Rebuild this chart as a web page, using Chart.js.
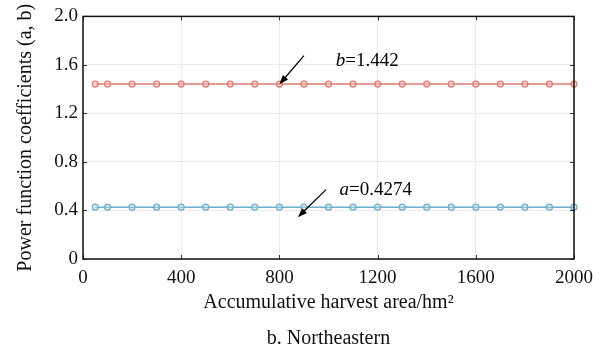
<!DOCTYPE html>
<html>
<head>
<meta charset="utf-8">
<script src="https://cdn.jsdelivr.net/npm/chart.js@4.4.1/dist/chart.umd.min.js"></script>
<style>
  html, body { margin: 0; padding: 0; background: #fff; }
  #wrap { width: 609px; height: 354px; }
</style>
</head>
<body>
<div id="wrap"><canvas id="chart" width="609" height="354"></canvas></div>
<script>
// harvest area (hm2) where the coefficients were sampled
const area = [50, 100, 200, 300, 400, 500, 600, 700, 800, 900, 1000,
              1100, 1200, 1300, 1400, 1500, 1600, 1700, 1800, 1900, 2000];
const bValues = area.map(() => 1.442);   // constant coefficient b
const aValues = area.map(() => 0.4274);  // constant coefficient a
const xTicks = [0, 400, 800, 1200, 1600, 2000];
const yTicks = [0, 0.4, 0.8, 1.2, 1.6, 2.0];

// annotation labels and arrows, placed in data units
const notes = [
  { name: 'b', value: '=1.442', at: [1030, 1.63], from: [900, 1.677], to: [800, 1.44] },
  { name: 'a', value: '=0.4274', at: [1045, 0.565], from: [990, 0.572], to: [875, 0.345] }
];

const serif = '"Liberation Serif", "Times New Roman", serif';
const red = '#df7a6e';
const blue = '#6badcc';

// draws the frame, inner ticks, arrows, labels and the caption
const extras = {
  id: 'extras',
  afterDraw(chart) {
    const { ctx, chartArea: ca, scales } = chart;
    const x = scales.x, y = scales.y;
    ctx.save();
    // inner tick marks on all four sides
    ctx.strokeStyle = '#333';
    ctx.lineWidth = 1;
    xTicks.forEach(v => {
      const px = Math.round(x.getPixelForValue(v)) + 0.5;
      ctx.beginPath(); ctx.moveTo(px, ca.top); ctx.lineTo(px, ca.top + 4); ctx.stroke();
      ctx.beginPath(); ctx.moveTo(px, ca.bottom); ctx.lineTo(px, ca.bottom - 4); ctx.stroke();
    });
    yTicks.forEach(v => {
      const py = Math.round(y.getPixelForValue(v)) + 0.5;
      ctx.beginPath(); ctx.moveTo(ca.right, py); ctx.lineTo(ca.right - 4, py); ctx.stroke();
      ctx.beginPath(); ctx.moveTo(ca.left, py); ctx.lineTo(ca.left + 4, py); ctx.stroke();
    });
    // frame
    ctx.strokeStyle = '#111';
    ctx.lineWidth = 1.5;
    ctx.strokeRect(ca.left, ca.top, ca.right - ca.left, ca.bottom - ca.top);

    // arrows and labels
    notes.forEach(n => {
      const x1 = x.getPixelForValue(n.from[0]), y1 = y.getPixelForValue(n.from[1]);
      const x2 = x.getPixelForValue(n.to[0]), y2 = y.getPixelForValue(n.to[1]);
      const ang = Math.atan2(y2 - y1, x2 - x1);
      ctx.strokeStyle = '#000';
      ctx.fillStyle = '#000';
      ctx.lineWidth = 1.3;
      ctx.beginPath(); ctx.moveTo(x1, y1);
      ctx.lineTo(x2 - 6 * Math.cos(ang), y2 - 6 * Math.sin(ang)); ctx.stroke();
      ctx.beginPath();
      ctx.moveTo(x2, y2);
      ctx.lineTo(x2 - 10 * Math.cos(ang - 0.35), y2 - 10 * Math.sin(ang - 0.35));
      ctx.lineTo(x2 - 10 * Math.cos(ang + 0.35), y2 - 10 * Math.sin(ang + 0.35));
      ctx.closePath(); ctx.fill();

      const lx = x.getPixelForValue(n.at[0]), ly = y.getPixelForValue(n.at[1]);
      ctx.textBaseline = 'middle';
      ctx.textAlign = 'left';
      ctx.font = 'italic 19px ' + serif;
      ctx.fillText(n.name, lx, ly);
      const w = ctx.measureText(n.name).width;
      ctx.font = '19px ' + serif;
      ctx.fillText(n.value, lx + w, ly);
    });

    // caption
    ctx.font = '20px ' + serif;
    ctx.textAlign = 'center';
    ctx.textBaseline = 'middle';
    ctx.fillStyle = '#111';
    ctx.fillText('b. Northeastern', (ca.left + ca.right) / 2, 339);
    ctx.restore();
  }
};

new Chart(document.getElementById('chart'), {
  type: 'line',
  data: {
    labels: area,
    datasets: [
      {
        label: 'b',
        data: bValues.map((v, i) => ({ x: area[i], y: v })),
        borderColor: red,
        borderWidth: 1.5,
        pointRadius: 3,
        pointBorderWidth: 1.2,
        pointBorderColor: red,
        pointBackgroundColor: 'rgba(240,190,185,0.5)'
      },
      {
        label: 'a',
        data: aValues.map((v, i) => ({ x: area[i], y: v })),
        borderColor: blue,
        borderWidth: 1.5,
        pointRadius: 3,
        pointBorderWidth: 1.2,
        pointBorderColor: blue,
        pointBackgroundColor: 'rgba(185,220,235,0.5)'
      }
    ]
  },
  options: {
    responsive: false,
    animation: false,
    clip: false,
    layout: { padding: { top: 14, right: 35, left: 10, bottom: 39 } },
    plugins: { legend: { display: false }, tooltip: { enabled: false } },
    scales: {
      x: {
        type: 'linear',
        min: 0, max: 2000,
        afterBuildTicks: s => { s.ticks = xTicks.map(v => ({ value: v })); },
        afterFit: s => { s.height = 56; },
        grid: { color: '#ebebeb', drawTicks: false },
        border: { display: false },
        ticks: {
          color: '#111', padding: 8,
          font: { family: serif, size: 19 },
          callback: v => String(v)
        },
        title: {
          display: true,
          text: 'Accumulative harvest area/hm²',
          color: '#111',
          font: { family: serif, size: 20 },
          padding: 0
        }
      },
      y: {
        min: 0, max: 2,
        afterBuildTicks: s => { s.ticks = yTicks.map(v => ({ value: v })); },
        afterFit: s => { s.width = 73; },
        grid: { color: '#ebebeb', drawTicks: false },
        border: { display: false },
        ticks: {
          color: '#111', padding: 5,
          font: { family: serif, size: 19 },
          callback: v => v === 0 ? '0' : v.toFixed(1)
        },
        title: {
          display: true,
          text: 'Power function coefficients (a, b)',
          color: '#111',
          font: { family: serif, size: 20 },
          padding: { top: 4, bottom: 0 }
        }
      }
    }
  },
  plugins: [extras]
});
</script>
</body>
</html>
